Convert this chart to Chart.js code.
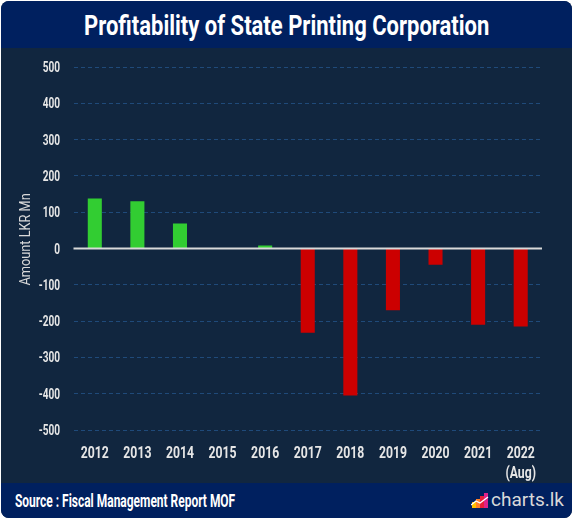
<!DOCTYPE html>
<html>
<head>
<meta charset="utf-8">
<script src="https://cdn.jsdelivr.net/npm/chart.js@4.4.0/dist/chart.umd.min.js"></script>
<style>
  html, body { margin: 0; padding: 0; background: #fff; }
  body { width: 573px; height: 521px; position: relative; overflow: hidden; font-family: Roboto, sans-serif; }
  .panel { position: absolute; left: 1px; top: 1px; width: 571px; height: 517px; border-radius: 8px; overflow: hidden; background: #11263f; }
  .head { position: absolute; left: 0; top: 0; width: 100%; height: 47px; background: #00205f; text-align: center; }
  .head span { display: inline-block; color: #fff; font-weight: bold; font-size: 27px; line-height: 47px; padding-top: 2px; white-space: nowrap; transform-origin: 50% 50%; }
  .foot { position: absolute; left: 0; bottom: 0; width: 100%; height: 35px; background: #00205f; }
  .src { position: absolute; left: 14px; top: 9px; color: #fff; font-weight: bold; font-size: 18px; line-height: 18px; white-space: nowrap; transform-origin: 0 50%; }
  .logo { position: absolute; right: 8px; top: 5px; color: #d9d9d9; font-size: 19px; display: flex; align-items: center; }
  .logo svg { margin-right: 2px; }
  #wrap { position: absolute; left: 0; top: 48px; width: 573px; height: 435px; }
</style>
</head>
<body>
<div class="panel">
  <div class="head"><span id="title">Profitability of State Printing Corporation</span></div>
  <div class="foot">
    <div class="src" id="src">Source : Fiscal Management Report MOF</div>
    <div class="logo">
      <svg width="18" height="16" viewBox="0 0 18 16">
        <rect x="1" y="10" width="4" height="6" fill="#ffc000"/>
        <rect x="5" y="7" width="4" height="9" fill="#ff7f27"/>
        <rect x="9" y="4" width="4" height="12" fill="#e8203a"/>
        <rect x="13" y="1" width="4" height="15" fill="#e0218a"/>
        <polyline points="0,13 5,9 9,11 17,5" fill="none" stroke="#fff" stroke-width="1.3"/>
      </svg>charts.lk
    </div>
  </div>
</div>
<div id="wrap"><canvas id="chart"></canvas></div>
<script>
const years = ['2012', '2013', '2014', '2015', '2016', '2017', '2018', '2019', '2020', '2021', ['2022', '(Aug)']];
const profit = [138, 130, 69, 0, 8, -232, -405, -170, -45, -210, -215];
const yTicks = { min: -500, max: 500, step: 100 };
const yTitle = 'Amount LKR Mn';

const FONT = 'Roboto, sans-serif';
const SQUEEZE = 0.72; // fake a condensed face

// squeeze the html texts to the widths of the original
function fit(id, w) {
  const el = document.getElementById(id);
  el.style.transform = 'scaleX(' + (w / el.offsetWidth) + ')';
}
fit('title', 405);
fit('src', 220);

const zeroLine = {
  id: 'zeroLine',
  afterDatasetsDraw(chart) {
    const { ctx, chartArea, scales } = chart;
    const y = scales.y.getPixelForValue(0);
    ctx.save();
    ctx.strokeStyle = '#d9d9d9';
    ctx.lineWidth = 2;
    ctx.beginPath();
    ctx.moveTo(chartArea.left, y);
    ctx.lineTo(chartArea.right, y);
    ctx.stroke();
    ctx.restore();
  },
};

// tick labels and axis title drawn narrow, placed from the chart's own scales
const narrowTicks = {
  id: 'narrowTicks',
  afterDraw(chart) {
    const { ctx, scales: { x, y } } = chart;
    const put = (txt, px, py, sx = SQUEEZE, rot = 0) => { ctx.save(); ctx.translate(px, py); ctx.rotate(rot); ctx.scale(sx, 1); ctx.fillText(txt, 0, 0); ctx.restore(); };
    ctx.save();
    ctx.fillStyle = '#e6e6e6';
    ctx.textBaseline = 'alphabetic';
    ctx.font = 'bold 17px ' + FONT;
    ctx.textAlign = 'center';
    x.ticks.forEach((t, i) => {
      [].concat(t.label).forEach((s, j) => put(s, x.getPixelForTick(i), x.top + 28 + j * 20));
    });
    ctx.font = 'bold 14px ' + FONT;
    ctx.textAlign = 'right';
    y.ticks.forEach((t, i) => put(String(t.label), 60, y.getPixelForTick(i) + 5));
    ctx.fillStyle = '#d9d9d9';
    ctx.font = '15px ' + FONT;
    ctx.textAlign = 'center';
    put(yTitle, 30, y.getPixelForValue(25), 0.85, -Math.PI / 2);
    ctx.restore();
  },
};

new Chart(document.getElementById('chart'), {
  type: 'bar',
  data: {
    labels: years,
    datasets: [{
      label: 'Profit',
      data: profit,
      backgroundColor: (c) => (c.raw >= 0 ? '#32cd32' : '#cc0000'),
      barPercentage: 0.33,
      categoryPercentage: 1,
    }],
  },
  options: {
    responsive: true,
    maintainAspectRatio: false,
    animation: false,
    layout: { padding: { top: 19, right: 31, bottom: 0, left: 0 } },
    plugins: { legend: { display: false }, tooltip: { enabled: false } },
    scales: {
      x: {
        grid: { display: false },
        border: { display: false },
        ticks: { display: false },
        afterFit: (s) => { s.height = 53; },
      },
      y: {
        min: yTicks.min,
        max: yTicks.max,
        ticks: { stepSize: yTicks.step, display: false },
        grid: { color: (c) => (c.tick && c.tick.value === 0 ? 'rgba(0,0,0,0)' : '#1f4a7a'), lineWidth: 1, drawTicks: false },
        border: { display: false, dash: [4, 3] },
        afterFit: (s) => { s.width = 73.5; },
      },
    },
  },
  plugins: [zeroLine, narrowTicks],
});
</script>
</body>
</html>
